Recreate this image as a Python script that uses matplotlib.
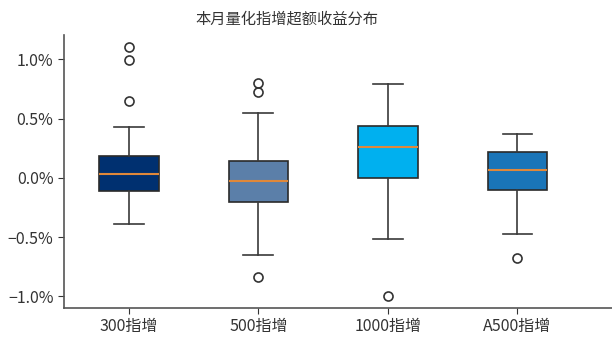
import matplotlib
matplotlib.use("Agg")
import matplotlib.pyplot as plt
from matplotlib.ticker import FuncFormatter

plt.rcParams['font.family'] = ['Noto Sans CJK SC', 'DejaVu Sans']
plt.rcParams['axes.unicode_minus'] = True

# box statistics (in %)
labels = ['300指增', '500指增', '1000指增', 'A500指增']
q1 = [-0.107, -0.205, -0.003, -0.101]
med = [0.031, -0.028, 0.264, 0.067]
q3 = [0.188, 0.138, 0.441, 0.219]
whislo = [-0.391, -0.650, -0.515, -0.475]
whishi = [0.433, 0.551, 0.793, 0.366]
fliers = [[1.10, 0.99, 0.65], [0.80, 0.728, -0.833], [-0.993], [-0.672]]
colors = ['#003070', '#5b7fa9', '#00b0ef', '#1a75b8']

stats = []
for i in range(len(labels)):
    stats.append({'label': labels[i], 'q1': q1[i], 'med': med[i], 'q3': q3[i],
                  'whislo': whislo[i], 'whishi': whishi[i], 'fliers': fliers[i]})

fig = plt.figure(figsize=(6.12, 3.42), dpi=100)
ax = fig.add_axes([64 / 612, 1 - 308 / 342, 1 - 64 / 612, (308 - 35) / 342])

bp = ax.bxp(stats, positions=[1, 2, 3, 4], widths=0.46, patch_artist=True,
            boxprops=dict(edgecolor='#2a2a2a', linewidth=1.2),
            whiskerprops=dict(color='#3a3a3a', linewidth=1.2),
            capprops=dict(color='#3a3a3a', linewidth=1.2),
            medianprops=dict(color='#e0883a', linewidth=1.5),
            flierprops=dict(marker='o', markerfacecolor='none', markeredgecolor='#333333',
                            markersize=6.5, markeredgewidth=1.2))
for patch, c in zip(bp['boxes'], colors):
    patch.set_facecolor(c)

ax.set_xlim(0.5, 4.73)
ax.set_ylim(-1.098, 1.205)
ax.set_yticks([-1.0, -0.5, 0.0, 0.5, 1.0])
ax.yaxis.set_major_formatter(FuncFormatter(lambda v, p: '{:.1f}%'.format(v).replace('-', '\u2212')))
ax.spines['top'].set_visible(False)
ax.spines['right'].set_visible(False)
for s in ['left', 'bottom']:
    ax.spines[s].set_color('#555555')
    ax.spines[s].set_linewidth(1.2)
ax.tick_params(axis='both', labelsize=11.5, colors='#333333', length=4)
ax.set_title('本月量化指增超额收益分布', fontsize=11, color='#333333', pad=8, x=0.407)

fig.savefig('out.png', dpi=100)
